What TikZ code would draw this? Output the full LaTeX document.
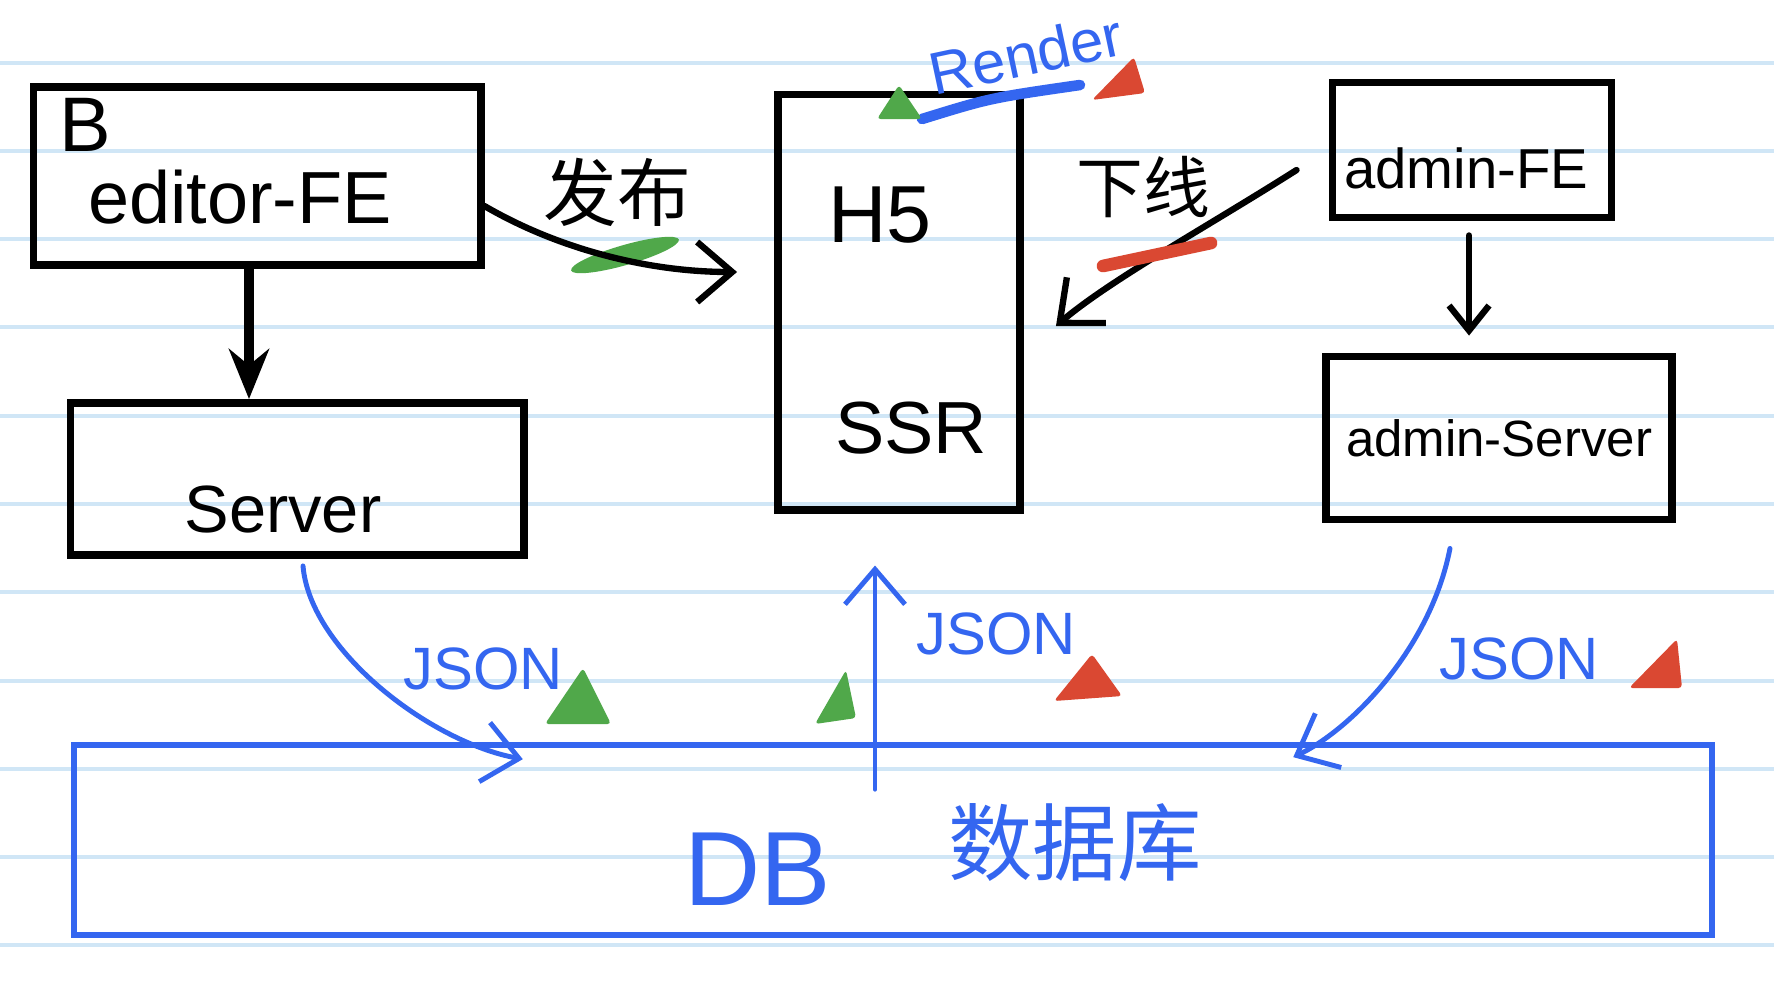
\documentclass[tikz,border=0pt]{standalone}
\usepackage{fontspec}
\setmainfont{Liberation Sans}
\newfontfamily\cjk{Noto Sans CJK SC}
\usepackage{xcolor}
\usetikzlibrary{arrows.meta, positioning}

\definecolor{inkblue}{RGB}{52,102,240}
\definecolor{inkgreen}{RGB}{80,168,74}
\definecolor{inkred}{RGB}{218,72,50}
\definecolor{paperline}{RGB}{208,230,246}

\begin{document}
\begin{tikzpicture}[
    x=0.01cm, y=-0.01cm,
    box/.style={draw, line width=2.2pt, inner sep=0pt},
    dbbox/.style={draw=inkblue, line width=1.6pt, inner sep=0pt},
    note/.style={inner sep=1pt},
    bluenote/.style={inner sep=1pt, text=inkblue},
    arrow/.style={-{Straight Barb[length=3.5mm, width=6mm]}, line width=1.8pt, line cap=round},
    fatarrow/.style={-{Stealth[length=5mm, width=4mm]}, line width=2.6pt},
    jsonarrow/.style={arrow, draw=inkblue, line width=1.4pt},
    ruling/.style={draw=paperline, line width=1.1pt}
]
\useasboundingbox (0,0) rectangle (1774,984);

% --- Paper ---
\fill[white] (0,0) rectangle (1774,984);
\foreach \ly in {63,151,239,327,416,504,592,681,769,857,945}
    \draw[ruling] (0,\ly) -- (1774,\ly);

% --- Editor side ---
\node[box, minimum width=4.47cm, minimum height=1.78cm] (editor) at (257,176) {};
\node[note, font=\fontsize{21}{25}\selectfont] (editortext) at (240,197) {editor-FE};
\node[note, font=\fontsize{22}{26}\selectfont] (editorb) at (85,125) {B};
\node[box, minimum width=4.53cm, minimum height=1.52cm] (server) at (297,479) {};
\node[note, font=\fontsize{19}{23}\selectfont] (servertext) at (283,509) {Server};
\draw[fatarrow] (editor.south -| 249,0) -- (server.north -| 249,0);

% --- H5 / SSR ---
\node[box, minimum width=2.42cm, minimum height=4.15cm] (h5ssr) at (899,302) {};
\node[note, font=\fontsize{23}{27}\selectfont] (h5) at (880,215) {H5};
\node[note, font=\fontsize{21}{25}\selectfont] (ssr) at (911,428) {SSR};

% --- Admin side ---
\node[box, minimum width=2.79cm, minimum height=1.35cm] (adminfe) at (1472,150) {};
\node[note, font=\fontsize{16}{20}\selectfont] (adminfetext) at (1466,168) {admin-FE};
\node[box, minimum width=3.46cm, minimum height=1.63cm, font=\fontsize{14.5}{18}\selectfont] (adminsrv) at (1499,438) {admin-Server};
\draw[arrow, -{Straight Barb[length=2.5mm, width=4mm]}] ([yshift=-0.14cm]adminfe.south -| 1469,0) -- ([yshift=0.17cm]adminsrv.north -| 1469,0);

% --- DB ---
\node[dbbox, minimum width=16.37cm, minimum height=1.9cm] (db) at (893,840) {};
\node[bluenote, font=\fontsize{30}{34}\selectfont] (dbname) at (758,869) {DB};
\node[bluenote, font=\cjk\fontsize{24}{28}\selectfont] (dbcn) at (1075,843) {数据库};

% publish
\fill[inkgreen, rotate around={16:(625,255)}] (625,255) ellipse [x radius=0.56cm, y radius=0.1cm];
\draw[arrow] ([yshift=-0.3cm]editor.east) .. controls (560,250) and (650,272) .. ([xshift=-0.37cm, yshift=0.3cm]h5ssr.west);
\node[note, font=\cjk\fontsize{21}{25}\selectfont] (publish) at (617,192) {发布};

% offline
\draw[arrow] ([xshift=-0.32cm, yshift=-0.2cm]adminfe.west) .. controls (1210,225) and (1110,280) .. ([xshift=0.32cm, yshift=-0.24cm]h5ssr.east);
\draw[inkred, line width=3.6pt, line cap=round] (1103,266) -- (1211,243);
\node[note, font=\cjk\fontsize{19}{23}\selectfont] (offline) at (1143,187) {下线};

% render
\draw[inkblue, line width=3pt, line cap=round] (922,119) .. controls (990,98) .. (1080,85);
\node[bluenote, rotate=12, font=\fontsize{17}{20}\selectfont] (render) at (1026,54) {Render};

% --- JSON flows ---
\draw[jsonarrow] ([xshift=0.06cm, yshift=-0.07cm]server.south) .. controls (310,650) and (430,742) .. ([xshift=-3.7cm, yshift=-0.17cm]db.north);
\node[bluenote, font=\fontsize{17}{20}\selectfont] (json1) at (483,669) {JSON};
\draw[jsonarrow] ([xshift=-0.24cm, yshift=-0.47cm]db.north -| h5ssr.south) -- ([xshift=-0.24cm, yshift=-0.52cm]h5ssr.south);
\node[bluenote, font=\fontsize{17}{20}\selectfont] (json2) at (996,634) {JSON};
\draw[jsonarrow] ([xshift=-0.49cm, yshift=-0.25cm]adminsrv.south) .. controls (1430,650) and (1350,730) .. ([xshift=4cm, yshift=-0.15cm]db.north);
\node[bluenote, font=\fontsize{17}{20}\selectfont] (json3) at (1519,659) {JSON};

% status marks
\fill[inkgreen, rounded corners=1pt] (877,119) -- (922,119) -- (899,85) -- cycle;
\fill[inkred, rounded corners=1pt] (1092,100) -- (1145,93) -- (1134,57) -- cycle;
\fill[inkgreen, rounded corners=1pt] (545,724) -- (611,724) -- (583,668) -- cycle;
\fill[inkgreen, rounded corners=1pt] (815,724) -- (856,718) -- (846,670) -- cycle;
\fill[inkred, rounded corners=1pt] (1054,701) -- (1122,696) -- (1092,654) -- cycle;
\fill[inkred, rounded corners=1pt] (1629,688) -- (1682,688) -- (1677,639) -- cycle;

\end{tikzpicture}
\end{document}
